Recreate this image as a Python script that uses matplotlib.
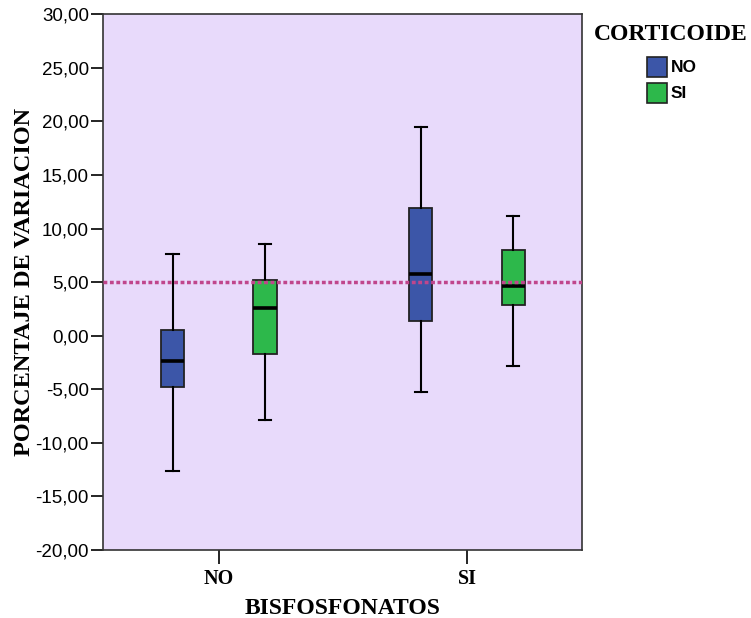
import matplotlib
matplotlib.use("Agg")
import matplotlib.pyplot as plt
from matplotlib.patches import Rectangle

# Five-number summaries per group (BISFOSFONATOS x CORTICOIDE)
groups = ["NO", "SI"]
series = ["NO", "SI"]
whislo = {"NO": [-12.65, -5.27], "SI": [-7.83, -2.86]}
q1     = {"NO": [-4.77, 1.39],   "SI": [-1.74, 2.89]}
med    = {"NO": [-2.36, 5.77],   "SI": [2.60, 4.60]}
q3     = {"NO": [0.57, 11.90],   "SI": [5.17, 8.02]}
whishi = {"NO": [7.60, 19.50],   "SI": [8.60, 11.14]}
ref_value = 5.0
yticks = [-20, -15, -10, -5, 0, 5, 10, 15, 20, 25, 30]

colors = {"NO": "#3C56A8", "SI": "#2DB84B"}
offsets = {"NO": -0.186, "SI": 0.186}

fig = plt.figure(figsize=(7.51, 6.18), dpi=100)
ax = fig.add_axes([0.137, 0.110, 0.638, 0.867])
ax.set_facecolor("#E8DAFB")

for s in series:
    stats = []
    for i, g in enumerate(groups):
        stats.append(dict(whislo=whislo[s][i], q1=q1[s][i], med=med[s][i],
                          q3=q3[s][i], whishi=whishi[s][i], fliers=[]))
    pos = [i + offsets[s] for i in range(len(groups))]
    ax.bxp(stats, positions=pos, widths=0.093, patch_artist=True,
           showfliers=False, manage_ticks=False,
           boxprops=dict(facecolor=colors[s], edgecolor="#222222", linewidth=1.3),
           medianprops=dict(color="black", linewidth=2.6),
           whiskerprops=dict(color="black", linewidth=1.5),
           capprops=dict(color="black", linewidth=1.5),
           capwidths=0.05, zorder=3)

ax.axhline(ref_value, color="#C0468C", linewidth=2.5,
           linestyle=(0, (1.1, 0.75)), zorder=4)

ax.set_xlim(-0.467, 1.463)
ax.set_ylim(-20, 30)
ax.set_yticks(yticks)
ax.set_yticklabels([f"{v:.2f}".replace(".", ",") for v in yticks],
                   fontfamily="Liberation Sans", fontsize=13.5)
ax.set_xticks(range(len(groups)))
ax.set_xticklabels(groups, fontfamily="Liberation Serif",
                   fontweight="bold", fontsize=14.5)
ax.tick_params(axis="y", length=9, width=1.2, pad=1, color="black")
ax.tick_params(axis="x", length=10, width=1.2, pad=4, color="black")
for sp in ax.spines.values():
    sp.set_color("#333333")
    sp.set_linewidth(1.2)

ax.set_ylabel("PORCENTAJE DE VARIACION", fontfamily="Liberation Serif",
              fontweight="bold", fontsize=17.5, labelpad=0)
ax.set_xlabel("BISFOSFONATOS", fontfamily="Liberation Serif",
              fontweight="bold", fontsize=17, labelpad=6)

# Legend drawn in figure coordinates
W, H = 751, 618
fig.text(671 / W, 1 - 35 / H, "CORTICOIDE", fontfamily="Liberation Serif",
         fontweight="bold", fontsize=17, ha="center", va="center")
for k, s in enumerate(series):
    y0 = 57 + k * 26
    fig.patches.append(Rectangle((647 / W, 1 - (y0 + 20) / H), 20 / W, 20 / H,
                                 transform=fig.transFigure,
                                 facecolor=colors[s], edgecolor="#222222",
                                 linewidth=1.2))
    fig.text(671 / W, 1 - (y0 + 10) / H, s, fontfamily="Liberation Sans",
             fontweight="bold", fontsize=12.5, ha="left", va="center")

fig.savefig("out.png", dpi=100)
